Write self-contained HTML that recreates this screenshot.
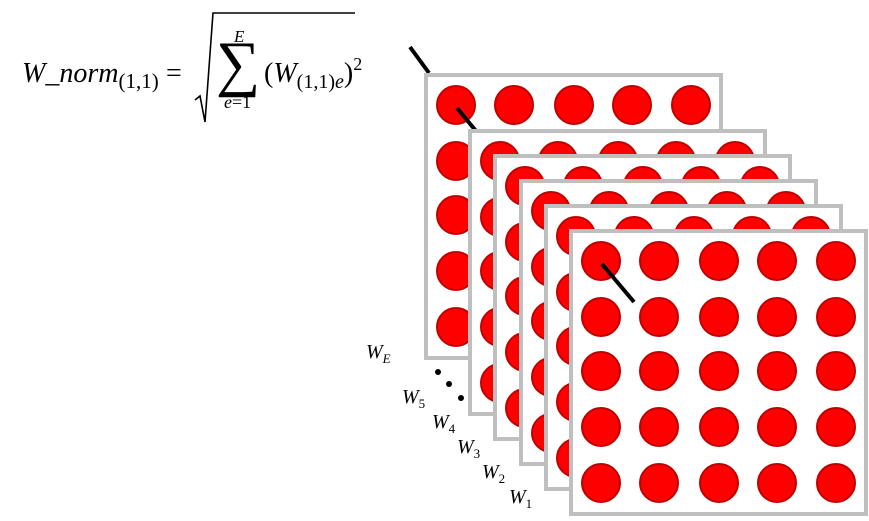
<!DOCTYPE html>
<html><head><meta charset="utf-8"><style>
html,body{margin:0;padding:0;background:#fff;width:869px;height:521px;overflow:hidden}
svg{display:block}
text{font-family:"Liberation Serif","DejaVu Serif",serif;font-style:italic;fill:#000}
.up{font-style:normal}
</style></head><body>
<svg id="fig" width="869" height="521" viewBox="0 0 869 521" xmlns="http://www.w3.org/2000/svg">
 <g>
  <text x="22" y="82" font-size="28">W_norm<tspan font-size="21" dy="6" class="up">(1,1)</tspan></text>
  <text x="166" y="82" font-size="28" class="up">=</text>
  <polyline points="195,100 200,96 205,122 213,13 355,13" fill="none" stroke="#000" stroke-width="1.6"/>
  <text x="216" y="84" font-size="62" class="up">∑</text>
  <text x="234" y="42" font-size="17">E</text>
  <text x="224" y="108" font-size="18">e<tspan class="up">=1</tspan></text>
  <text x="264" y="82" font-size="28"><tspan class="up">(</tspan>W<tspan font-size="20" dy="6"><tspan class="up">(1,1)</tspan>e</tspan><tspan class="up" dy="-6">)</tspan><tspan font-size="18" dy="-12" class="up">2</tspan></text>
 </g>
 <line x1="410" y1="47" x2="429" y2="73" stroke="#000" stroke-width="4"/>
 <g id="panels"></g>
 <g>
  <circle cx="438" cy="372" r="3" fill="#000"/><circle cx="449" cy="384" r="3" fill="#000"/><circle cx="461" cy="398" r="3" fill="#000"/>
 </g>
 <g font-size="20">
  <text x="366" y="358">W<tspan font-size="13" dy="5">E</tspan></text>
  <text x="402" y="403">W<tspan font-size="13" dy="5" class="up">5</tspan></text>
  <text x="432" y="428">W<tspan font-size="13" dy="5" class="up">4</tspan></text>
  <text x="457" y="453">W<tspan font-size="13" dy="5" class="up">3</tspan></text>
  <text x="482" y="478">W<tspan font-size="13" dy="5" class="up">2</tspan></text>
  <text x="509" y="503">W<tspan font-size="13" dy="5" class="up">1</tspan></text>
 </g>
</svg>
<script>
const panelNames=['E','5','4','3','2','1'];
const panelLefts=[426,470,495,521,546,571];
const panelTops=[75,131,156,181,206,231];
const colOff=[30,88,148,206,265];
const rowOff=[30,86,140,196,252];
const NS='http://www.w3.org/2000/svg';
const g=document.getElementById('panels');
panelNames.forEach((n,i)=>{
  const pg=document.createElementNS(NS,'g');
  
  
  const r=document.createElementNS(NS,'rect');
  r.setAttribute('x',panelLefts[i]);r.setAttribute('y',panelTops[i]);
  r.setAttribute('width',295);r.setAttribute('height',283);
  r.setAttribute('fill','#fff');r.setAttribute('stroke','#bfbfbf');r.setAttribute('stroke-width',4);
  
  
  pg.appendChild(r);
  rowOff.forEach(ry=>colOff.forEach(cx=>{
    const c=document.createElementNS(NS,'circle');
    c.setAttribute('cx',panelLefts[i]+cx);c.setAttribute('cy',panelTops[i]+ry);
    c.setAttribute('r',19);c.setAttribute('fill','#f00');c.setAttribute('stroke','#c00000');c.setAttribute('stroke-width',2);
    
    
    pg.appendChild(c);
  }));
  g.appendChild(pg);
  if(n==='E'||n==='1'){
    const l=document.createElementNS(NS,'line');
    const x0=panelLefts[i]+colOff[0]+1,y0=panelTops[i]+rowOff[0]+3;
    l.setAttribute('x1',x0);l.setAttribute('y1',y0);
    l.setAttribute('x2',x0+(n==='1'?32:19));l.setAttribute('y2',y0+(n==='1'?38:23));
    l.setAttribute('stroke','#000');l.setAttribute('stroke-width',4);
    
    
    g.appendChild(l);
  }
});
</script>
</body></html>
